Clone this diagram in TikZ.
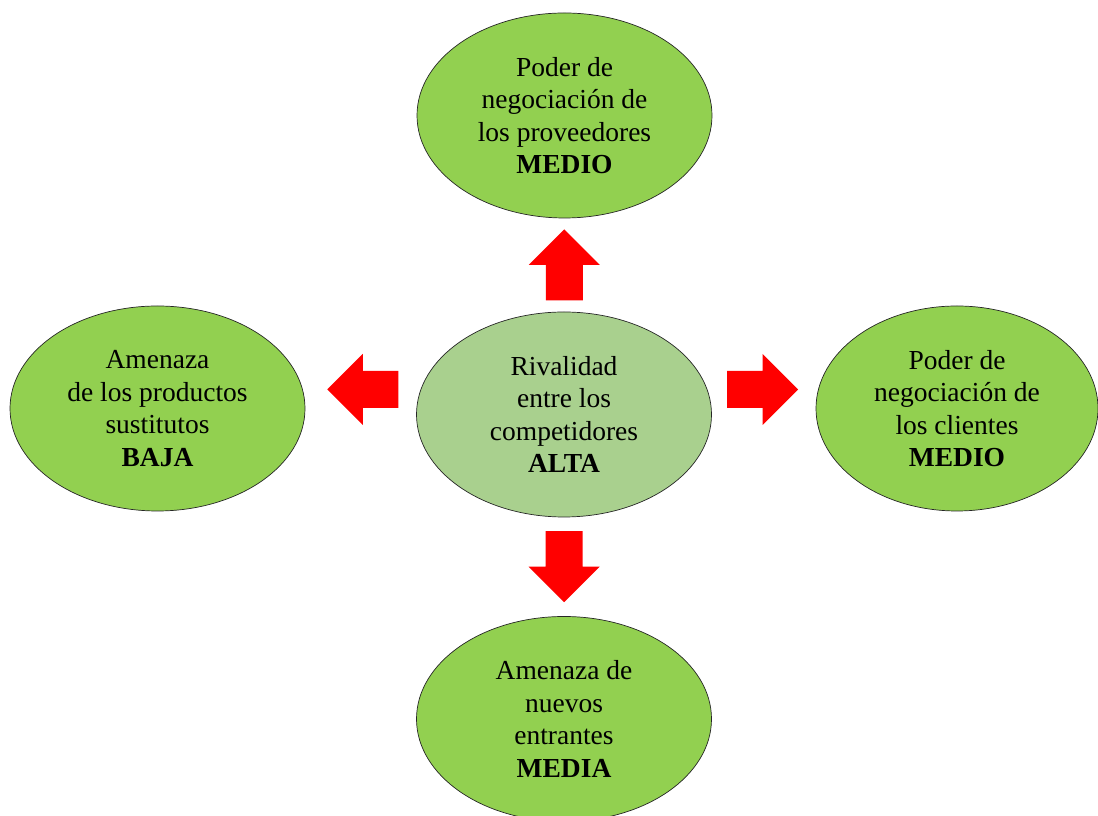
\documentclass[tikz,border=0pt]{standalone}
\usepackage{fontspec}
\setmainfont{Liberation Serif}
\usetikzlibrary{shapes.geometric,calc}
\definecolor{forcegreen}{HTML}{92D050}
\definecolor{centergreen}{HTML}{A9D08E}
\definecolor{arrowred}{HTML}{FF0000}
\tikzset{
  force/.style={ellipse, draw=black!85, line width=0.7pt, fill=forcegreen,
    minimum width=295pt, minimum height=205pt, inner sep=0pt, align=center,
    font=\fontsize{27.5}{32.5}\selectfont},
  rivalry/.style={force, fill=centergreen},
  blockarrow/.pic={\fill[arrowred] (-35.5,-18.5) -- (0,-18.5) -- (0,-35.5) -- (35.5,0)
      -- (0,35.5) -- (0,18.5) -- (-35.5,18.5) -- cycle;}
}
\begin{document}
\begin{tikzpicture}[x=1pt,y=1pt]
\useasboundingbox (0,0) rectangle (1098,816);
\node[rivalry] (c) at (564,401.5) {Rivalidad\\entre los\\competidores\\\textbf{ALTA}};
\node[force] (t) at (564.5,700.5) {Poder de\\negociación de\\los proveedores\\\textbf{MEDIO}};
\node[force] (l) at (157.5,407.5) {Amenaza\\de los productos\\sustitutos\\\textbf{BAJA}};
\node[force, minimum width=282pt] (r) at (957,407.5) {Poder de\\negociación de\\los clientes\\\textbf{MEDIO}};
\node[force] (b) at (564,97) {Amenaza de\\nuevos\\entrantes\\\textbf{MEDIA}};
\pic[rotate=90] at ($(c)!0.5!(t)$) {blockarrow};
\pic[rotate=-90] at ($(c)!0.5!(b)$) {blockarrow};
\pic[rotate=180] at ($(c)!0.5!(l)+(2,22)$) {blockarrow};
\pic at ($(c)!0.5!(r)+(2,22)$) {blockarrow};
\end{tikzpicture}
\end{document}
